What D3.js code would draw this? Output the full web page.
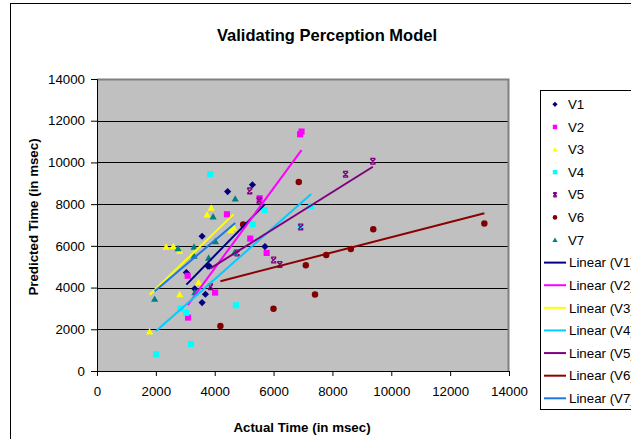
<!DOCTYPE html>
<html>
<head>
<meta charset="utf-8">
<script src="https://cdnjs.cloudflare.com/ajax/libs/d3/7.8.5/d3.min.js"></script>
<style>
  body { margin: 0; background: #fff; }
  text { font-family: "Liberation Sans", Arial, sans-serif; }
</style>
</head>
<body>
<div id="chart"></div>
<script>

// series names and point values (actual ms, predicted ms)
var seriesNames = ["V1", "V2", "V3", "V4", "V5", "V6", "V7"];

var v1x = [4439, 5282, 3571, 3320, 3684, 3571, 3769, 3820, 3037, 5707];
var v1y = [8601, 8930, 6460, 3942, 3679, 3281, 5022, 5022, 4719, 5966];

var v2x = [6900, 6950, 5527, 4415, 3082, 4014, 3095, 5207, 5765];
var v2y = [11350, 11480, 8283, 7515, 4566, 3760, 2561, 6350, 5659];

var v3x = [3881, 3741, 2347, 2595, 2810, 4551, 4646, 3452, 2810, 1789];
var v3y = [7818, 7501, 5957, 5981, 5765, 6748, 6878, 4254, 3679, 1890];

var v4x = [3844, 5697, 5293, 2840, 3031, 4721, 3197, 2010, 7279, 6915];
var v4y = [9434, 7717, 7036, 2993, 2791, 3151, 1295, 801, 7899, 6906];

var v5x = [5190, 5510, 6922, 4762, 6003, 6211, 8446, 9374, 3854];
var v5y = [8633, 8187, 6906, 5659, 5324, 5108, 9434, 10058, 4038];

var v6x = [6857, 4966, 4194, 5997, 7095, 7408, 7789, 8626, 9388, 13163];
var v6y = [9065, 7022, 2158, 2983, 5070, 3664, 5564, 5851, 6796, 7070];

var v7x = [4697, 3946, 2755, 3299, 4024, 3299, 3793, 4670, 1959, 3327];
var v7y = [8259, 7405, 5885, 5957, 6211, 5525, 5429, 5679, 3453, 3775];

var xTicks = [0, 2000, 4000, 6000, 8000, 10000, 12000, 14000];
var yTicks = [0, 2000, 4000, 6000, 8000, 10000, 12000, 14000];

var markerColors = ["#000080", "#FF00FF", "#FFFF00", "#00FFFF", "#800080", "#800000", "#008080"];
var trendColors = ["#000080", "#FF00FF", "#FFFF00", "#00CCFF", "#800080", "#8B0000", "#1F77E0"];
var markerShapes = ["diamond", "square", "triangle", "square", "cross", "circle", "triangle"];

var xs = [v1x, v2x, v3x, v4x, v5x, v6x, v7x];
var ys = [v1y, v2y, v3y, v4y, v5y, v6y, v7y];

var series = seriesNames.map(function(name, i) {
  return {
    name: name,
    points: xs[i].map(function(x, j) { return { x: x, y: ys[i][j] }; }),
    color: markerColors[i],
    trend: trendColors[i],
    shape: markerShapes[i]
  };
});

var width = 631, height = 439;
var svg = d3.select("#chart").append("svg")
  .attr("width", width)
  .attr("height", height);

// outer chart border
svg.append("rect")
  .attr("x", 10.5).attr("y", 3.5)
  .attr("width", 700).attr("height", 500)
  .attr("fill", "#fff")
  .attr("stroke", "#000");

var plotL = 97, plotR = 509, plotT = 79, plotB = 371;

var x = d3.scaleLinear().domain([0, 14000]).range([plotL, plotR]);
var y = d3.scaleLinear().domain([0, 14000]).range([plotB, plotT]);

svg.append("rect")
  .attr("x", plotL).attr("y", plotT)
  .attr("width", plotR - plotL).attr("height", plotB - plotT)
  .attr("fill", "#C0C0C0");

svg.append("g")
  .selectAll("line")
  .data(yTicks.filter(function(d) { return d > 0 && d < 14000; }))
  .enter().append("line")
  .attr("x1", plotL).attr("x2", plotR)
  .attr("y1", function(d) { return Math.round(y(d)) + 0.5; })
  .attr("y2", function(d) { return Math.round(y(d)) + 0.5; })
  .attr("stroke", "#000")
  .attr("stroke-width", 1);

// plot frame: gray on top/right
svg.append("path")
  .attr("d", "M" + plotL + "," + (plotT + 0.5) + "H" + (plotR - 0.5) + "V" + plotB)
  .attr("fill", "none")
  .attr("stroke", "#808080")
  .attr("stroke-width", 2);

var xAxis = svg.append("g")
  .attr("transform", "translate(0," + plotB + ")")
  .call(d3.axisBottom(x).tickValues(xTicks).tickSize(5).tickPadding(11).tickFormat(d3.format("d")));

var yAxis = svg.append("g")
  .attr("transform", "translate(" + plotL + ",0)")
  .call(d3.axisLeft(y).tickValues(yTicks).tickSize(6).tickPadding(6).tickFormat(d3.format("d")));

[xAxis, yAxis].forEach(function(a) {
  a.select(".domain").attr("stroke", "#000");
  a.selectAll(".tick line").attr("stroke", "#000");
  a.selectAll(".tick text")
    .attr("fill", "#000")
    .style("font-size", "13.3px")
    .style("font-family", "'Liberation Sans', Arial, sans-serif");
});

function shapePath(shape, size) {
  var s = size;
  if (shape == "diamond") return "M0," + (-s) + "L" + s + ",0L0," + s + "L" + (-s) + ",0Z";
  if (shape == "square") return "M" + (-s * 0.85) + "," + (-s * 0.85) + "h" + (s * 1.7) + "v" + (s * 1.7) + "h" + (-s * 1.7) + "Z";
  if (shape == "triangle") return "M0," + (-s) + "L" + s + "," + (s * 0.8) + "L" + (-s) + "," + (s * 0.8) + "Z";
  if (shape == "circle") return d3.symbol().type(d3.symbolCircle).size(Math.PI * s * s * 0.8)();
  if (shape == "cross") return "M" + (-s * 0.7) + "," + (-s * 0.7) + "L" + (s * 0.7) + "," + (s * 0.7) +
    "M" + (-s * 0.7) + "," + (s * 0.7) + "L" + (s * 0.7) + "," + (-s * 0.7) +
    "M" + (-s * 0.7) + "," + (-s * 0.8) + "H" + (s * 0.7) + "M" + (-s * 0.7) + "," + (s * 0.8) + "H" + (s * 0.7);
}

function drawMarker(sel, d, size) {
  var p = sel.append("path").attr("d", shapePath(d.shape, size));
  if (d.shape == "cross") {
    p.attr("fill", "none").attr("stroke", d.color).attr("stroke-width", 1.4);
  } else {
    p.attr("fill", d.color).attr("stroke", "none");
  }
}

// markers
series.forEach(function(s) {
  var g = svg.append("g").attr("class", "series");
  g.selectAll("g")
    .data(s.points)
    .enter().append("g")
    .attr("transform", function(d) { return "translate(" + x(d.x) + "," + y(d.y) + ")"; })
    .each(function() { drawMarker(d3.select(this), s, 3.6); });
});

// linear trendlines
function fit(pts) {
  var mx = d3.mean(pts, function(d) { return d.x; });
  var my = d3.mean(pts, function(d) { return d.y; });
  var sxy = d3.sum(pts, function(d) { return (d.x - mx) * (d.y - my); });
  var sxx = d3.sum(pts, function(d) { return (d.x - mx) * (d.x - mx); });
  var b = sxy / sxx, a = my - b * mx;
  var ext = d3.extent(pts, function(d) { return d.x; });
  return [{ x: ext[0], y: a + b * ext[0] }, { x: ext[1], y: a + b * ext[1] }];
}

var line = d3.line().x(function(d) { return x(d.x); }).y(function(d) { return y(d.y); });

series.forEach(function(s) {
  svg.append("path")
    .datum(fit(s.points))
    .attr("d", line)
    .attr("fill", "none")
    .attr("stroke", s.trend)
    .attr("stroke-width", 2);
});

// titles
svg.append("text")
  .attr("x", 327).attr("y", 41)
  .attr("text-anchor", "middle")
  .style("font-size", "16.5px")
  .style("font-weight", "bold")
  .text("Validating Perception Model");

svg.append("text")
  .attr("x", 302).attr("y", 432)
  .attr("text-anchor", "middle")
  .style("font-size", "13.3px")
  .style("font-weight", "bold")
  .text("Actual Time (in msec)");

svg.append("text")
  .attr("transform", "translate(38,217) rotate(-90)")
  .attr("text-anchor", "middle")
  .style("font-size", "13.3px")
  .style("font-weight", "bold")
  .text("Predicted Time (in msec)");

// legend
var legend = svg.append("g");
legend.append("rect")
  .attr("x", 540.5).attr("y", 90.5)
  .attr("width", 120).attr("height", 319)
  .attr("fill", "#fff")
  .attr("stroke", "#000");

var rowY = d3.scaleLinear().domain([0, 13]).range([104.3, 398.3]);

series.forEach(function(s, i) {
  var g = legend.append("g").attr("transform", "translate(555," + rowY(i) + ")");
  drawMarker(g, s, 2.6);
  g.append("text")
    .attr("x", 13).attr("y", 4.7)
    .style("font-size", "13.3px")
    .text(s.name);
});

series.forEach(function(s, i) {
  var g = legend.append("g").attr("transform", "translate(544," + rowY(i + 7) + ")");
  g.append("line")
    .attr("x1", 0).attr("x2", 22)
    .attr("stroke", s.trend)
    .attr("stroke-width", 2);
  g.append("text")
    .attr("x", 25).attr("y", 4.7)
    .style("font-size", "13.3px")
    .text("Linear (" + s.name + ")");
});

</script>
</body>
</html>
